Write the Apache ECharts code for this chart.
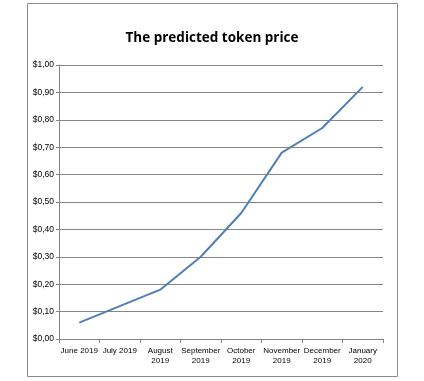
<!DOCTYPE html>
<html><head><meta charset="utf-8">
<script src="https://cdn.jsdelivr.net/npm/echarts@6/dist/echarts.min.js"></script>
<style>html,body{margin:0;padding:0;background:#fff}#c{width:424px;height:381px}</style>
</head><body><div id="c"></div>
<script>
const categories = ["June 2019","July 2019","August 2019","September 2019","October 2019","November 2019","December 2019","January 2020"];
const prices = [0.06, 0.12, 0.18, 0.30, 0.46, 0.68, 0.77, 0.92];
const yTicks = [0, 0.1, 0.2, 0.3, 0.4, 0.5, 0.6, 0.7, 0.8, 0.9, 1.0];
const titleText = "The predicted token price";

const chart = echarts.init(document.getElementById('c'), null, {renderer:'canvas'});
const font = "'Liberation Sans', Arial, sans-serif";
chart.setOption({
  animation:false,
  backgroundColor:'#fff',
  title:{text:titleText, left:'center', top:26, textStyle:{fontFamily:"'Open Sans','Liberation Sans',sans-serif", fontSize:13.5, fontWeight:'bold', color:'#000'}},
  graphic:[{type:'rect', shape:{x:27.5,y:3.5,width:370,height:373}, style:{fill:'none', stroke:'#8c8c8c', lineWidth:1}, silent:true}],
  grid:{left:59, right:41, top:65, bottom:42},
  xAxis:{type:'category', data:categories, boundaryGap:true,
    axisLine:{lineStyle:{color:'#868686', width:1}},
    axisTick:{show:true, length:4, lineStyle:{color:'#868686'}},
    axisLabel:{interval:0, fontFamily:font, fontSize:8, color:'#000', margin:7, lineHeight:10,
      formatter:v => v.length > 9 ? v.replace(' ', '\n') : v}},
  yAxis:{type:'value', min:yTicks[0], max:yTicks[yTicks.length-1], interval:0.1,
    axisLine:{show:true, lineStyle:{color:'#868686', width:1}},
    axisTick:{show:true, length:3, lineStyle:{color:'#868686'}},
    splitLine:{lineStyle:{color:'#868686', width:1}},
    axisLabel:{fontFamily:font, fontSize:8.5, color:'#000', margin:5,
      formatter:v => '$' + v.toFixed(2).replace('.', ',')}},
  series:[{type:'line', data:prices, symbol:'none', lineStyle:{color:'#4f7fb8', width:2}}]
});
</script></body></html>
